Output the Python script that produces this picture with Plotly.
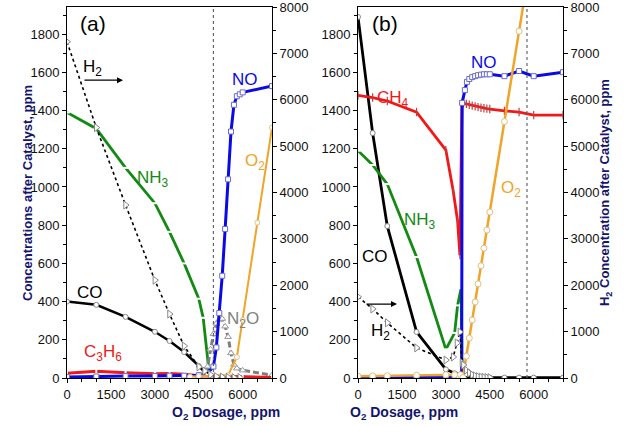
import plotly.graph_objects as go

# ---------------- data: panel (a) ----------------
X_CO_A = [0, 1000, 2000, 3000, 3500, 4000, 4500, 4700, 4900, 5000, 5500, 6000, 7000]
CO_A = [400, 383, 320, 242, 194, 136, 63, 30, 12, 5, 3, 2, 2]

X_NH3_A = [0, 1000, 2000, 3000, 3500, 4000, 4500, 4650, 4850, 4950]
NH3_A = [1390, 1305, 1100, 915, 765, 600, 415, 315, 35, 55]

X_H2_A = [0, 1000, 2000, 3000, 3500, 4000, 4500, 4700, 4900, 5100, 5300, 5500, 5700, 5900]
H2_A = [7250, 5400, 3730, 2110, 1380, 690, 240, 150, 70, 30, 20, 15, 10, 10]

X_C3H6_A = [0, 1000, 2000, 3000, 3500, 4000, 4500, 5000, 5500, 6000, 7000]
C3H6_A = [25, 35, 28, 22, 23, 20, 12, 10, 8, 5, 3]

X_NO_A = [0, 1000, 2000, 3000, 3500, 4000, 4500, 4800, 5000, 5100, 5200, 5300, 5400,
          5500, 5600, 5700, 5800, 5900, 6000, 7000]
NO_A = [5, 8, 10, 10, 12, 12, 15, 25, 60, 160, 340, 535, 780, 1040, 1290, 1430, 1475,
        1485, 1495, 1528]

X_N2O_A = [4500, 4700, 4800, 4900, 5000, 5100, 5200, 5300, 5400, 5500, 5600, 5700, 5800, 6000, 7000]
N2O_A = [10, 20, 60, 150, 230, 285, 305, 310, 270, 215, 130, 70, 50, 40, 15]

X_O2_A = [4200, 4500, 5000, 5500, 5800, 6000, 6500, 7000]
O2_A = [30, 40, 50, 60, 450, 1250, 3350, 5400]

# ---------------- data: panel (b) ----------------
X_CO_B = [0, 500, 1000, 2000, 3000, 3300, 3500, 3600, 4000, 4500, 5000, 5500, 6000, 7000]
CO_B = [1890, 1282, 795, 241, 45, 25, 20, 2, 2, 2, 2, 2, 2, 2]

X_NH3_B = [0, 500, 1000, 2000, 3000, 3300, 3400, 3520, 3560, 3600]
NH3_B = [1190, 1115, 1015, 633, 150, 236, 380, 470, 5, 0]

X_CH4_B = [0, 500, 1000, 2000, 3000, 3250, 3400, 3480, 3550, 3600, 3700, 3800, 3900, 4000,
           4100, 4200, 4300, 4400, 4500, 5000, 5500, 6000, 7000]
CH4_B = [1480, 1468, 1450, 1392, 1193, 980, 822, 643, 1440, 1438, 1435, 1430, 1426, 1422,
         1418, 1415, 1412, 1410, 1408, 1398, 1392, 1376, 1376]

X_NO_B = [0, 500, 1000, 2000, 3000, 3300, 3450, 3540, 3555, 3650, 3720, 3800, 3900, 4000,
          4100, 4200, 4300, 4400, 4500, 5000, 5500, 6000, 7000]
NO_B = [5, 5, 5, 5, 5, 5, 8, 10, 1440, 1507, 1550, 1565, 1575, 1580, 1585, 1588, 1590,
        1590, 1590, 1580, 1607, 1580, 1601]

X_O2_B = [0, 500, 1000, 2000, 3000, 3300, 3500, 3580, 3700, 3800, 3900, 4000, 4100, 4200,
          4300, 4400, 4500, 5000, 5500, 6000]
O2_B = [40, 45, 50, 60, 70, 70, 70, 10, 470, 860, 1250, 1640, 2030, 2420, 2800, 3190,
        3580, 5530, 7480, 9430]

X_H2_B = [0, 500, 1000, 2000, 3000, 3250, 3380, 3480, 3550, 3600, 3700, 3800, 3900, 4000,
          4100, 4200, 4300, 4400, 4500]
H2_B = [1750, 1490, 1190, 650, 388, 453, 755, 992, 330, 280, 170, 110, 70, 45, 30, 20, 15, 10, 8]

VLINE_A = 5000
VLINE_B = 5770

X_TICKS = [0, 1500, 3000, 4500, 6000]

# ---------------- styling ----------------
BLACK = "#000000"
GREEN = "#138a13"
RED = "#f01818"
BLUE = "#0a0ae6"
ORANGE = "#f0a428"
GRAY = "#7f7f7f"
NAVY = "#14146e"
FONT = "Liberation Sans, Arial, sans-serif"

fig = go.Figure()


def add(x, y, color, xa, ya, width=2.5, dash="solid", symbol="circle", msize=5,
        mfill="white", mline="#888888", mlw=1):
    fig.add_trace(go.Scatter(
        x=x, y=y, xaxis=xa, yaxis=ya, mode="lines+markers",
        line=dict(color=color, width=width, dash=dash),
        marker=dict(symbol=symbol, size=msize, color=mfill,
                    line=dict(color=mline, width=mlw)),
        showlegend=False, cliponaxis=True))


# panel (a)
add(X_O2_A, O2_A, ORANGE, "x", "y2", width=2, symbol="circle", msize=5, mline="#e0c080")
add(X_H2_A, H2_A, BLACK, "x", "y2", width=1.6, dash="dot", symbol="triangle-right", msize=7, mline="#888888")
add(X_CO_A, CO_A, BLACK, "x", "y", width=2.5, symbol="circle", msize=5)
add(X_NH3_A, NH3_A, GREEN, "x", "y", width=2.8, symbol="line-ew", msize=4, mline="white", mlw=2)
add(X_N2O_A, N2O_A, GRAY, "x", "y", width=3, dash="6px,3px", symbol="triangle-up", msize=6, mline="#999999")
add(X_C3H6_A, C3H6_A, RED, "x", "y", width=3, symbol="line-ns", msize=5, mline="white", mlw=2)
add(X_NO_A, NO_A, BLUE, "x", "y", width=3, symbol="square", msize=5, mline="#6a6ad0")

# panel (b)
add(X_O2_B, O2_B, ORANGE, "x2", "y4", width=2.5, symbol="circle", msize=6, mline="#e0c080")
add(X_H2_B, H2_B, BLACK, "x2", "y4", width=1.6, dash="dot", symbol="triangle-right", msize=7, mline="#888888")
add(X_CO_B, CO_B, BLACK, "x2", "y3", width=2.8, symbol="circle", msize=5)
add(X_NH3_B, NH3_B, GREEN, "x2", "y3", width=2.8, symbol="line-ew", msize=4, mline="white", mlw=2)
add(X_CH4_B, CH4_B, RED, "x2", "y3", width=2.8, symbol="line-ns", msize=6, mline="#c04040", mlw=1.2)
add(X_NO_B, NO_B, BLUE, "x2", "y3", width=3, symbol="square", msize=5, mline="#6a6ad0")

TF = dict(family=FONT, size=13, color="#111111")
xcommon = dict(range=[0, 7000], tickvals=X_TICKS, ticks="outside", ticklen=4, tickwidth=1,
               tickcolor="black", showline=True, linecolor="black", linewidth=1, mirror=True,
               showgrid=False, zeroline=False, automargin=False, ticklabeloverflow="allow",
               minor=dict(dtick=500, tick0=0, ticks="outside", ticklen=3, tickcolor="black", showgrid=False),
               tickfont=TF)
yleft = dict(range=[0, 1942], dtick=200, tick0=0, ticks="outside", ticklen=4, tickcolor="black",
             showline=True, linecolor="black", linewidth=1, showgrid=False, zeroline=False,
             automargin=False, ticklabeloverflow="allow",
             minor=dict(dtick=100, ticks="outside", ticklen=3, tickcolor="black", showgrid=False),
             tickfont=TF)
yright = dict(range=[0, 8000.5], dtick=1000, tick0=0, ticks="outside", ticklen=4, tickcolor="black",
              showline=True, linecolor="black", linewidth=1, showgrid=False, zeroline=False, side="right",
              automargin=False, ticklabeloverflow="allow",
              minor=dict(dtick=500, ticks="outside", ticklen=3, tickcolor="black", showgrid=False),
              tickfont=TF)

fig.update_layout(
    template="none",
    width=630, height=427,
    margin=dict(l=67, r=67, t=7, b=49, autoexpand=False),
    paper_bgcolor="white", plot_bgcolor="white",
    xaxis=dict(domain=[0, 0.4133], anchor="y", **xcommon),
    xaxis2=dict(domain=[0.5867, 1], anchor="y3", **xcommon),
    yaxis=dict(domain=[0, 1], anchor="x", **yleft),
    yaxis2=dict(overlaying="y", anchor="x", **yright),
    yaxis3=dict(domain=[0, 1], anchor="x2", **yleft),
    yaxis4=dict(overlaying="y3", anchor="x2", **yright),
)

# vertical dotted lines
for xr, yr, xv in [("x", "y domain", VLINE_A), ("x2", "y3 domain", VLINE_B)]:
    fig.add_shape(type="line", xref=xr, yref=yr, x0=xv, x1=xv, y0=0, y1=1,
                  line=dict(color="#666666", width=1.2, dash="dot"))

LAB = 17


def lab(text, x, y, color, xr, yr, size=LAB):
    fig.add_annotation(text=text, x=x, y=y, xref=xr, yref=yr, showarrow=False,
                       font=dict(family=FONT, size=size, color=color))


lab("(a)", 888, 1858, BLACK, "x", "y", size=21)
lab("H<sub>2</sub>", 854, 1622, BLACK, "x", "y")
lab("NH<sub>3</sub>", 2936, 1040, GREEN, "x", "y")
lab("NO", 6077, 1565, BLUE, "x", "y")
lab("O<sub>2</sub>", 6419, 1130, ORANGE, "x", "y")
lab("CO", 785, 445, BLACK, "x", "y")
lab("C<sub>3</sub>H<sub>6</sub>", 1229, 130, RED, "x", "y")
lab("N<sub>2</sub>O", 6009, 305, GRAY, "x", "y")

lab("(b)", 922, 1858, BLACK, "x2", "y3", size=21)
lab("CH<sub>4</sub>", 1195, 1462, RED, "x2", "y3")
lab("NO", 4302, 1654, BLUE, "x2", "y3")
lab("O<sub>2</sub>", 5224, 990, ORANGE, "x2", "y3")
lab("NH<sub>3</sub>", 2117, 820, GREEN, "x2", "y3")
lab("CO", 580, 638, BLACK, "x2", "y3")
lab("H<sub>2</sub>", 785, 242, BLACK, "x2", "y3")

# arrows
fig.add_annotation(x=1912, y=1559, xref="x", yref="y", ax=-40, ay=0, text="",
                   showarrow=True, arrowhead=2, arrowsize=1, arrowwidth=1.2, arrowcolor="black")
fig.add_annotation(x=1331, y=387, xref="x2", yref="y3", ax=-32, ay=0, text="",
                   showarrow=True, arrowhead=2, arrowsize=1, arrowwidth=1.2, arrowcolor="black")

# axis titles
fig.add_annotation(text="Concentrations after Catalyst, ppm", xref="paper", yref="paper",
                   x=-0.0988, y=0.5, textangle=-90, showarrow=False,
                   font=dict(family=FONT, size=13, color=NAVY, weight="bold"))
fig.add_annotation(text="H<sub>2</sub> Concentration after Catalyst, ppm", xref="paper", yref="paper",
                   x=1.1069, y=0.5, textangle=-90, showarrow=False,
                   font=dict(family=FONT, size=13, color=NAVY, weight="bold"))
for xc in [0.2067, 0.7933]:
    fig.add_annotation(text="O<sub>2</sub> Dosage, ppm", xref="paper", yref="paper",
                       x=xc, y=-0.094, showarrow=False, yanchor="middle",
                       font=dict(family=FONT, size=14, color=NAVY, weight="bold"))

fig.write_html("out.html", config={"displayModeBar": False},
               post_script="document.body.style.margin='0';document.body.style.overflow='hidden';")
